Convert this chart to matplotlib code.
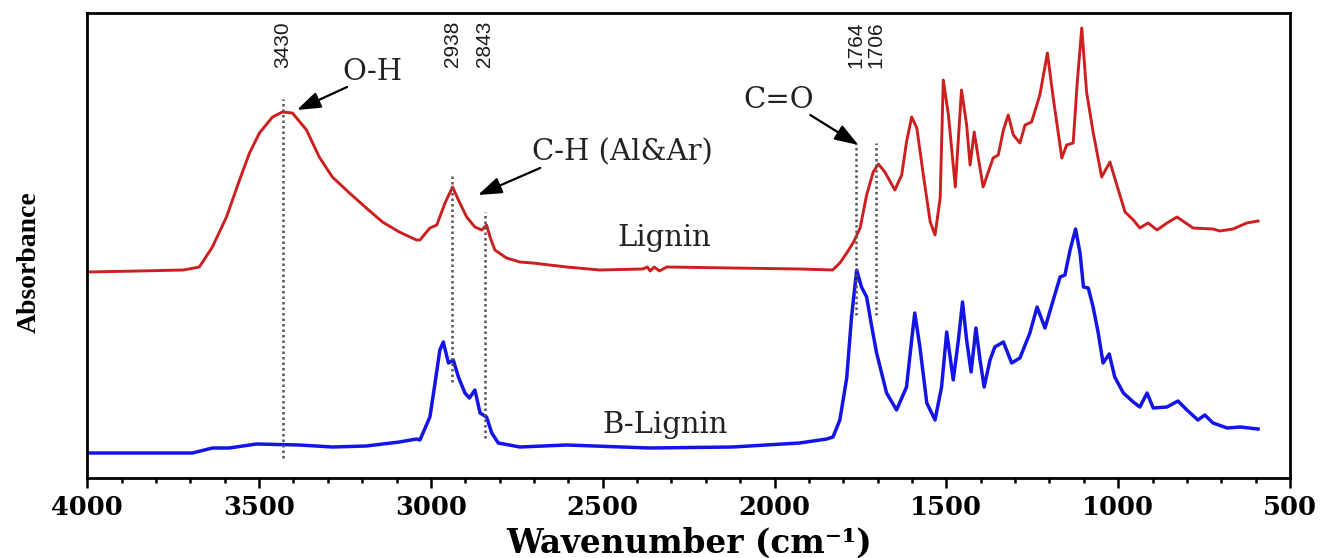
import matplotlib
matplotlib.use('Agg')
import matplotlib.pyplot as plt
from matplotlib.ticker import MultipleLocator

# Lignin (red) spectrum, wavenumber in cm-1 and absorbance in arbitrary units
lignin_wn = [4000, 3850, 3720, 3674, 3636, 3595, 3557, 3528, 3499, 3461, 3432, 3403,
             3362, 3325, 3287, 3237, 3188, 3141, 3092, 3042, 3032, 3003, 2983, 2959,
             2937, 2920, 2896, 2872, 2852, 2838, 2828, 2814, 2780, 2741, 2704, 2605,
             2509, 2384, 2370, 2362, 2350, 2335, 2314, 2122, 1927, 1831, 1810, 1790,
             1770, 1751, 1732, 1713, 1698, 1679, 1650, 1630, 1616, 1601, 1586, 1567,
             1547, 1533, 1518, 1509, 1494, 1474, 1456, 1441, 1431, 1419, 1407, 1393,
             1364, 1349, 1334, 1320, 1305, 1286, 1271, 1252, 1228, 1206, 1189, 1164,
             1150, 1131, 1119, 1106, 1092, 1073, 1048, 1024, 1004, 980, 956, 937,
             913, 887, 858, 829, 782, 724, 704, 666, 626, 593]
lignin_abs = [2.06, 2.07, 2.08, 2.11, 2.31, 2.61, 2.98, 3.25, 3.45, 3.61, 3.66, 3.65,
              3.48, 3.21, 3.01, 2.85, 2.70, 2.56, 2.46, 2.38, 2.38, 2.50, 2.53, 2.75,
              2.91, 2.78, 2.61, 2.51, 2.48, 2.53, 2.41, 2.28, 2.20, 2.16, 2.15, 2.11,
              2.08, 2.09, 2.11, 2.07, 2.11, 2.07, 2.11, 2.10, 2.09, 2.08, 2.15, 2.25,
              2.36, 2.50, 2.83, 3.06, 3.14, 3.06, 2.88, 3.03, 3.36, 3.61, 3.50, 3.03,
              2.56, 2.43, 2.80, 3.98, 3.63, 2.91, 3.88, 3.53, 3.13, 3.46, 3.20, 2.91,
              3.20, 3.23, 3.48, 3.63, 3.43, 3.35, 3.53, 3.56, 3.83, 4.25, 3.80, 3.20,
              3.33, 3.35, 3.96, 4.50, 3.86, 3.46, 3.01, 3.16, 2.93, 2.66, 2.58, 2.50,
              2.55, 2.48, 2.55, 2.61, 2.50, 2.49, 2.47, 2.49, 2.55, 2.57]

# B-Lignin (blue) spectrum
blignin_wn = [4000, 3694, 3636, 3587, 3508, 3383, 3287, 3188, 3092, 3042, 3032, 3003,
              2988, 2974, 2964, 2949, 2935, 2920, 2901, 2888, 2872, 2857, 2838, 2823,
              2804, 2741, 2605, 2364, 2122, 1927, 1848, 1830, 1810, 1790, 1776, 1761,
              1747, 1732, 1717, 1703, 1674, 1645, 1616, 1601, 1592, 1577, 1557, 1533,
              1514, 1499, 1480, 1465, 1453, 1441, 1428, 1414, 1402, 1390, 1373, 1359,
              1334, 1310, 1286, 1257, 1236, 1213, 1189, 1169, 1155, 1140, 1124, 1111,
              1101, 1087, 1073, 1058, 1044, 1026, 1010, 985, 956, 937, 916, 898, 858,
              826, 800, 768, 748, 724, 683, 645, 593]
blignin_abs = [0.25, 0.25, 0.30, 0.30, 0.34, 0.33, 0.31, 0.32, 0.36, 0.39, 0.38, 0.61,
               0.95, 1.28, 1.36, 1.15, 1.18, 1.01, 0.85, 0.80, 0.88, 0.65, 0.61, 0.45,
               0.35, 0.31, 0.33, 0.30, 0.31, 0.35, 0.39, 0.41, 0.58, 1.00, 1.61, 2.08,
               1.91, 1.81, 1.51, 1.25, 0.85, 0.68, 0.91, 1.38, 1.65, 1.31, 0.75, 0.58,
               0.91, 1.46, 0.98, 1.38, 1.76, 1.38, 1.06, 1.50, 1.18, 0.91, 1.18, 1.31,
               1.36, 1.15, 1.20, 1.45, 1.71, 1.50, 1.78, 2.01, 2.03, 2.28, 2.49, 2.25,
               1.91, 1.90, 1.71, 1.45, 1.15, 1.24, 1.01, 0.85, 0.76, 0.71, 0.85, 0.70,
               0.71, 0.77, 0.68, 0.58, 0.63, 0.55, 0.50, 0.51, 0.49]

# marked peaks and the extent of their dotted guide lines
peak_wn = [3430, 2938, 2843, 1764, 1706]
peak_top = [3.79, 3.05, 2.66, 3.35, 3.35]
peak_bottom = [0.20, 0.96, 0.40, 1.63, 1.63]

# band labels: text, text position, arrow tail, arrow head
band_text = ['O-H', 'C-H (Al&Ar)', 'C=O']
band_text_pos = [(3171, 4.06), (2443, 3.26), (1987, 3.78)]
band_tail = [(3244, 3.91), (2682, 3.10), (1896, 3.63)]
band_head = [(3390, 3.68), (2863, 2.83), (1756, 3.33)]

series_names = ['Lignin', 'B-Lignin']
series_label_pos = [(2321, 2.40), (2318, 0.53)]

fig = plt.figure(figsize=(13.25, 5.58), dpi=100)
ax = fig.add_axes([87.3 / 1325, 80 / 558, 1202.7 / 1325, 465 / 558])

ax.plot(lignin_wn, lignin_abs, color='#cc1f1f', lw=2.1, solid_joinstyle='round')
ax.plot(blignin_wn, blignin_abs, color='#1414e6', lw=2.5, solid_joinstyle='round')

for wn, top, bot in zip(peak_wn, peak_top, peak_bottom):
    ax.plot([wn, wn], [bot, top], color='#555555', lw=1.8, ls=(0, (1, 1.2)))
    ax.text(wn, 4.57, str(wn), rotation=90, ha='center', va='top',
            fontsize=15, family='Liberation Sans', color='#1a1a1a')

for txt, pos, tail, head in zip(band_text, band_text_pos, band_tail, band_head):
    ax.text(pos[0], pos[1], txt, ha='center', va='center', fontsize=21,
            family='DejaVu Serif', color='#222222')
    ax.annotate('', xy=head, xytext=tail,
                arrowprops=dict(arrowstyle='-|>,head_length=0.8,head_width=0.28',
                                color='black', lw=1.6, mutation_scale=18,
                                shrinkA=0, shrinkB=0))

for name, pos in zip(series_names, series_label_pos):
    ax.text(pos[0], pos[1], name, ha='center', va='center', fontsize=21,
            family='DejaVu Serif', color='#222222')

ax.set_xlim(4000, 500)
ax.set_ylim(0, 4.65)
ax.xaxis.set_major_locator(MultipleLocator(500))
ax.xaxis.set_minor_locator(MultipleLocator(100))
ax.set_yticks([])
ax.tick_params(axis='x', which='major', direction='out', length=7, width=1.8, pad=5)
ax.tick_params(axis='x', which='minor', direction='out', length=3.6, width=1.8)
for lab in ax.get_xticklabels():
    lab.set_family('DejaVu Serif')
    lab.set_fontweight('bold')
    lab.set_fontsize(18.5)
for sp in ax.spines.values():
    sp.set_linewidth(2)

ax.set_xlabel('Wavenumber (cm⁻¹)', family='DejaVu Serif', fontweight='bold', fontsize=23.5)
ax.xaxis.set_label_coords(0.5, -0.14)
ax.xaxis.label.set_verticalalignment('center')
ax.set_ylabel('Absorbance', family='Liberation Serif', fontweight='bold', fontsize=20)
ax.yaxis.set_label_coords(-0.0485, 0.4645)
ax.yaxis.label.set_verticalalignment('center')

fig.savefig('out.png', dpi=100, facecolor='white')
